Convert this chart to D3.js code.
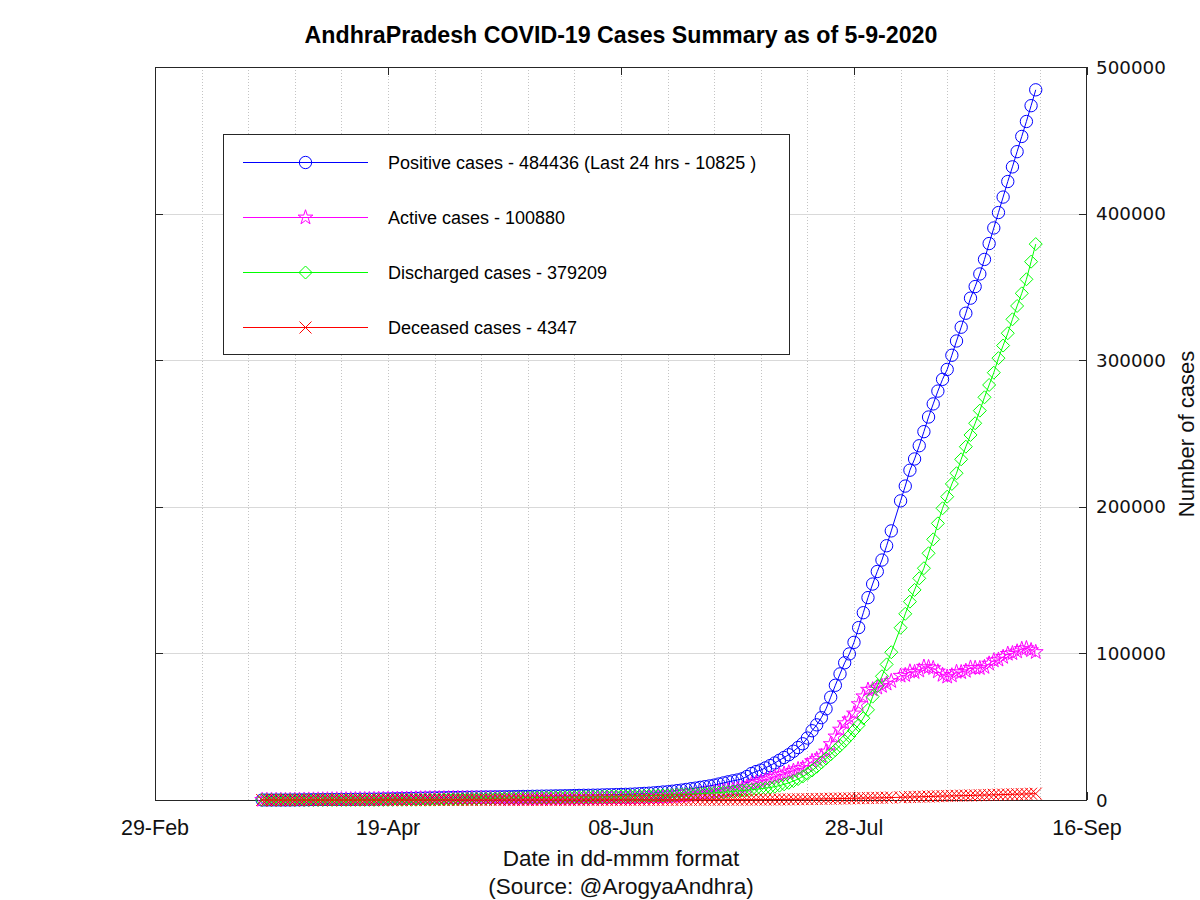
<!DOCTYPE html>
<html><head><meta charset="utf-8">
<script src="https://cdn.jsdelivr.net/npm/d3@7"></script>
<style>body{margin:0;background:#fff}svg{display:block}</style>
</head><body><svg id="c" width="1200" height="900"></svg>
<script>
// ---------- DATA ----------
const dates = [
"03-23","03-24","03-25","03-26","03-27","03-28","03-29","03-30","03-31",
"04-01","04-02","04-03","04-04","04-05","04-06","04-07","04-08","04-09","04-10",
"04-11","04-12","04-13","04-14","04-15","04-16","04-17","04-18","04-19","04-20",
"04-21","04-22","04-23","04-24","04-25","04-26","04-27","04-28","04-29","04-30",
"05-01","05-02","05-03","05-04","05-05","05-06","05-07","05-08","05-09","05-10",
"05-11","05-12","05-13","05-14","05-15","05-16","05-17","05-18","05-19","05-20",
"05-21","05-22","05-23","05-24","05-25","05-26","05-27","05-28","05-29","05-30","05-31",
"06-01","06-02","06-03","06-04","06-05","06-06","06-07","06-08","06-09","06-10",
"06-11","06-12","06-13","06-14","06-15","06-16","06-17","06-18","06-19","06-20",
"06-21","06-22","06-23","06-24","06-25","06-26","06-27","06-28","06-29","06-30",
"07-01","07-02","07-03","07-04","07-05","07-06","07-07","07-08","07-09","07-10",
"07-11","07-12","07-13","07-14","07-15","07-16","07-17","07-18","07-19","07-20",
"07-21","07-22","07-23","07-24","07-25","07-26","07-27","07-28","07-29","07-30","07-31",
"08-01","08-02","08-03","08-04","08-05",
"08-07","08-08","08-09","08-10","08-11","08-12","08-13","08-14","08-15","08-16",
"08-17","08-18","08-19","08-20","08-21","08-22","08-23","08-24","08-25","08-26",
"08-27","08-28","08-29","08-30","08-31",
"09-01","09-02","09-03","09-04","09-05"];

const positive = [
10,11,13,19,21,23,44,87,132,
161,190,252,266,314,348,363,381,405,420,
432,483,525,534,572,603,647,722,757,813,
893,955,1016,1097,1177,1259,1332,1403,1463,1525,
1583,1650,1717,1777,1833,1887,1930,1980,2018,2051,
2090,2137,2157,2205,2230,2282,2339,2407,2452,2514,
2561,2627,2671,2719,2787,2841,2874,2944,3042,3118,3200,
3210,3277,3327,3438,3518,3593,3690,3776,3861,3952,
4088,4291,4487,4630,4855,5104,5430,5606,5983,6370,
6758,7202,7683,8086,8634,9081,9584,10139,10885,11648,
12391,13045,13652,14447,15999,18064,19397,20409,21914,23472,
25235,27118,29003,30869,33251,35794,38346,42259,47250,51274,
56168,62163,70111,78258,86021,93598,99649,107547,117590,127757,138038,
147314,155869,163691,173438,183566,
204065,214145,224965,232630,241654,251251,261247,270190,278922,286934,
293714,303366,313108,322501,332045,342321,350216,358817,368744,379574,
390195,400721,411269,421872,431876,
442244,452636,462835,473611,484436];

const active = [
10,11,13,18,20,22,43,86,131,
160,189,250,262,310,343,353,368,389,403,
415,465,507,511,542,573,617,691,675,701,
730,786,847,925,977,1037,1100,1141,1174,1173,
1149,1176,1193,1217,1208,1120,1112,1097,1087,1082,
1070,1035,969,967,829,881,857,847,806,801,
798,863,866,815,883,881,857,847,924,964,1003,
986,1004,1035,1101,1122,1147,1212,1159,1143,1143,
1240,1389,1551,1640,1782,1907,2183,2259,2492,2663,
2853,3178,3525,3717,4180,4437,4784,5119,5648,6175,
6633,6989,7294,7795,9060,10812,11783,12432,13522,14613,
15807,16953,17919,18761,19899,21002,21812,23773,26508,27878,
29810,33040,38127,43325,48021,52357,54959,58999,65377,70676,75189,
75407,76595,77754,79334,81085,
84723,85206,87629,87214,88251,90855,90569,89915,87660,85284,
84082,84946,87302,87135,88044,90229,90027,89935,90676,93014,
95154,95688,97555,99676,100092,
101275,102983,103510,102135,100880];

const discharged = [
0,0,0,1,1,1,1,1,1,
1,1,1,1,1,2,6,9,10,11,
11,11,11,14,16,16,16,16,65,92,
141,145,145,145,171,191,201,231,258,321,
401,441,488,524,589,729,780,842,887,925,
975,1056,1142,1192,1353,1353,1433,1510,1596,1660,
1709,1709,1750,1848,1848,1903,1958,2037,2058,2092,2135,
2160,2209,2224,2266,2323,2373,2403,2540,2640,2729,
2766,2818,2850,2902,2983,3105,3151,3246,3385,3596,
3789,3905,4035,4233,4308,4487,4631,4840,5050,5280,
5560,5850,6140,6420,6700,7000,7350,7700,8100,8550,
9100,9800,10700,11700,12900,14300,16000,17900,20100,22700,
25600,28300,31100,34000,37000,40200,43600,47400,51000,55800,61500,
70500,77800,84400,92500,100800,
117500,127000,135300,143300,151200,158100,168300,177800,188700,199000,
206900,215600,222900,232400,241000,249000,257000,265600,274700,283100,
291500,301400,310000,318400,327900,
337000,345600,355200,367200,379209];

const deceased = [
0,0,0,0,0,0,0,0,0,
0,0,1,3,3,3,4,4,6,6,
6,7,7,9,14,14,14,15,17,20,
22,24,24,27,29,31,31,31,31,31,
33,33,36,36,36,38,38,41,44,44,
45,46,46,46,48,48,49,50,50,53,
54,55,55,56,56,57,59,60,60,62,62,
64,64,68,71,73,73,75,77,78,80,
82,84,86,88,90,92,96,101,106,111,
116,119,123,136,146,157,169,180,187,193,
198,206,218,232,239,252,264,277,292,309,
328,365,384,408,452,492,534,586,642,696,
758,823,884,933,1000,1041,1090,1148,1213,1281,1349,
1407,1474,1537,1604,1681,
1842,1939,2036,2116,2203,2296,2378,2475,2562,2650,
2732,2820,2906,2966,3001,3092,3189,3282,3368,3460,
3541,3633,3714,3796,3884,
3969,4053,4125,4276,4347];

const xTickDates = ["2020-02-29","2020-04-19","2020-06-08","2020-07-28","2020-09-16"];
const xTickLabels = ["29-Feb","19-Apr","08-Jun","28-Jul","16-Sep"];
const yTicks = [0,100000,200000,300000,400000,500000];
const seriesNames = ["Positive cases - 484436 (Last 24 hrs - 10825 )","Active cases - 100880","Discharged cases - 379209","Deceased cases - 4347"];
const seriesColors = ["#0000ff","#ff00ff","#00ff00","#ff0000"];
const titleText = "AndhraPradesh COVID-19 Cases Summary as of 5-9-2020";

// ---------- CHART ----------
const svg = d3.select("#c");
const L=155, R=1087, T=67, B=800;
const FONT = "Liberation Sans, Arial, sans-serif";
const pd = s => { const p=s.split("-").map(Number); return new Date(Date.UTC(p[0],p[1]-1,p[2])); };
const xs = d3.scaleUtc().domain([pd(xTickDates[0]), pd(xTickDates[xTickDates.length-1])]).range([L,R]);
const ys = d3.scaleLinear().domain([0,500000]).range([B,T]);
const dx = dates.map(s => pd("2020-"+s));

svg.append("rect").attr("width",1200).attr("height",900).attr("fill","#fff");

// vertical dotted grid every 10 days
const g = svg.append("g");
const start = pd(xTickDates[0]);
d3.range(10,200,10).forEach(k=>{
  const xx = Math.round(xs(d3.utcDay.offset(start,k)))+0.5;
  g.append("line").attr("x1",xx).attr("x2",xx).attr("y1",T).attr("y2",B)
   .attr("stroke","#c4c4c4").attr("stroke-width",1).attr("stroke-dasharray","1,2");
});
// horizontal grid
yTicks.slice(1,-1).forEach(v=>{
  const yy = Math.round(ys(v))+0.5;
  g.append("line").attr("x1",L).attr("x2",R).attr("y1",yy).attr("y2",yy)
   .attr("stroke","#d9d9d9").attr("stroke-width",1);
});

// frame
svg.append("rect").attr("x",L+0.5).attr("y",T+0.5).attr("width",R-L-1).attr("height",B-T)
  .attr("fill","none").attr("stroke","#262626").attr("stroke-width",1);

// ticks
const tk = svg.append("g").attr("stroke","#262626").attr("stroke-width",1);
xTickDates.forEach(s=>{
  const xx = Math.round(xs(pd(s)))+0.5;
  tk.append("line").attr("x1",xx).attr("x2",xx).attr("y1",B).attr("y2",B-8);
  tk.append("line").attr("x1",xx).attr("x2",xx).attr("y1",T).attr("y2",T+8);
});
yTicks.forEach(v=>{
  const yy = Math.round(ys(v))+0.5;
  tk.append("line").attr("x1",R).attr("x2",R-8).attr("y1",yy).attr("y2",yy);
  tk.append("line").attr("x1",L).attr("x2",L+8).attr("y1",yy).attr("y2",yy);
});

// tick labels
xTickDates.forEach((s,i)=>{
  svg.append("text").attr("x",xs(pd(s))).attr("y",835).attr("text-anchor","middle")
   .attr("font-family",FONT).attr("font-size",21.5)
   .attr("fill","#111").text(xTickLabels[i]);
});
yTicks.forEach(v=>{
  svg.append("text").attr("x",1096).attr("y",ys(v)+6.5).attr("text-anchor","start")
   .attr("font-family","DejaVu Sans, sans-serif").attr("font-size",18.3)
   .attr("fill","#111").text(d3.format("d")(v));
});

// title and axis labels
svg.append("text").attr("x",621).attr("y",43).attr("text-anchor","middle")
  .attr("font-family",FONT).attr("font-weight","bold")
  .attr("font-size",23.2).attr("fill","#000").text(titleText);
svg.append("text").attr("x",621).attr("y",866).attr("text-anchor","middle")
  .attr("font-family",FONT).attr("font-size",22.5)
  .attr("fill","#111").text("Date in dd-mmm format");
svg.append("text").attr("x",621).attr("y",894).attr("text-anchor","middle")
  .attr("font-family",FONT).attr("font-size",22.5)
  .attr("fill","#111").text("(Source: @ArogyaAndhra)");
svg.append("text").attr("transform","translate(1194,434) rotate(-90)").attr("text-anchor","middle")
  .attr("font-family",FONT).attr("font-size",22)
  .attr("fill","#111").text("Number of cases");

// markers
const circlePath = d3.symbol().type(d3.symbolCircle).size(Math.PI*38)();
const starPath = d3.symbol().type(d3.symbolStar).size(68)();
const diamondPath = "M0,-6.5L6.5,0L0,6.5L-6.5,0Z";
const crossPath = "M-6,-6L6,6M-6,6L6,-6";
const markerPaths = [circlePath, starPath, diamondPath, crossPath];
const seriesData = [positive, active, discharged, deceased];

const line = d3.line().x(d=>d[0]).y(d=>d[1]);
seriesData.forEach((vals,si)=>{
  const pts = vals.map((v,i)=>[xs(dx[i]), ys(v)]);
  const sg = svg.append("g");
  sg.append("path").attr("d",line(pts)).attr("fill","none")
    .attr("stroke",seriesColors[si]).attr("stroke-width",1);
  sg.selectAll("path.m").data(pts).join("path").attr("class","m")
    .attr("transform",d=>`translate(${d[0]},${d[1]})`).attr("d",markerPaths[si])
    .attr("fill","none").attr("stroke",seriesColors[si]).attr("stroke-width",1);
});

// legend
const lg = svg.append("g");
lg.append("rect").attr("x",223.5).attr("y",134.5).attr("width",566).attr("height",220)
  .attr("fill","#fff").attr("stroke","#262626").attr("stroke-width",1);
const legY = [162,217,272,327];
seriesNames.forEach((n,i)=>{
  lg.append("line").attr("x1",243).attr("x2",368).attr("y1",legY[i]+0.5).attr("y2",legY[i]+0.5)
    .attr("stroke",seriesColors[i]).attr("stroke-width",1);
  lg.append("path").attr("transform",`translate(305.5,${legY[i]+0.5})`).attr("d",markerPaths[i])
    .attr("fill","none").attr("stroke",seriesColors[i]).attr("stroke-width",1);
  lg.append("text").attr("x",388).attr("y",legY[i]+6.5).attr("font-family",FONT)
    .attr("font-size",18).attr("fill","#000").text(n);
});
</script></body></html>
